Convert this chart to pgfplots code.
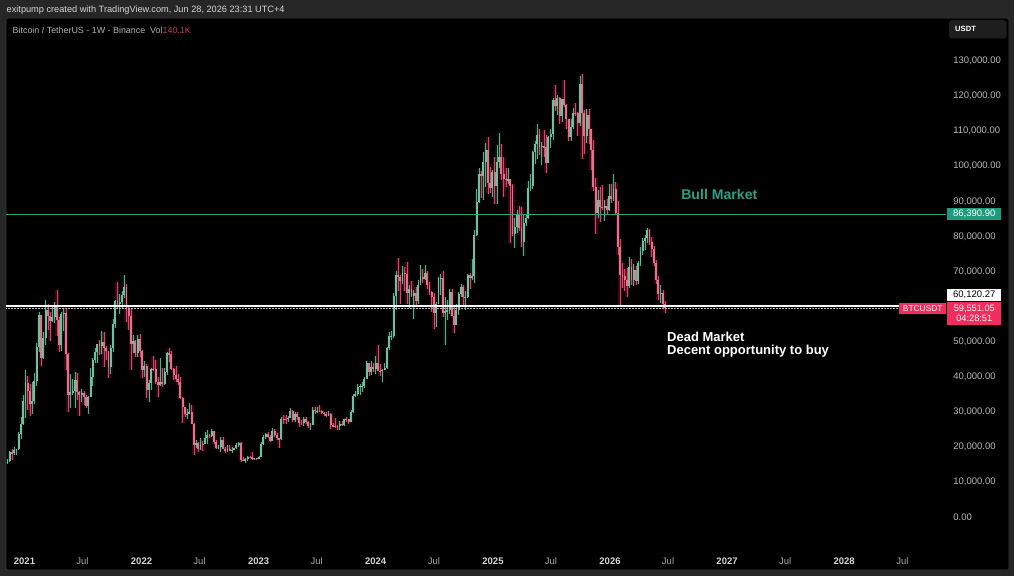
\documentclass[border=0pt]{standalone}
\usepackage{pgfplots}
\pgfplotsset{compat=1.18}
\usepackage{pgfplotstable}
\usepackage{fontspec}
\setmainfont{Liberation Sans}
\definecolor{bgout}{HTML}{262626}
\definecolor{panelborder}{HTML}{3A3A3A}
\definecolor{usdtbox}{HTML}{1E1E1E}
\definecolor{hdrtxt}{HTML}{D6D6D6}
\definecolor{titletxt}{HTML}{B0B0B0}
\definecolor{upb}{HTML}{72BE9E}
\definecolor{upw}{HTML}{5AAA8A}
\definecolor{upg}{HTML}{1A9A6A}
\definecolor{dnb}{HTML}{D9778C}
\definecolor{dnw}{HTML}{C84E68}
\definecolor{dng}{HTML}{E01848}
\definecolor{tealc}{HTML}{2E9E84}
\definecolor{tealbox}{HTML}{1E9B7D}
\definecolor{redlab}{HTML}{F02D5C}
\definecolor{redvol}{HTML}{C23A50}
\definecolor{axtxt}{HTML}{B8B8B8}
\definecolor{yeartxt}{HTML}{D6D6D6}
\definecolor{jultxt}{HTML}{A8A8A8}

\pgfplotstableread{
n o h l c
0 15330 16480 15070 15960
1 15960 18950 15780 18400
2 18400 19480 16200 18180
3 18180 19900 17570 19160
4 19160 19420 17650 19280
5 19280 24300 19000 23740
6 23740 28420 22350 26440
7 26440 34800 26300 33000
8 33000 41950 28130 38150
9 38150 40100 30420 35800
10 35800 37850 28850 32260
11 32260 38530 29240 33100
12 33100 40950 32300 38870
13 38870 49700 37370 48580
14 48580 58350 46930 57490
15 57490 57530 43000 45240
16 45240 52640 44950 50970
17 50970 61800 49160 59020
18 59020 60600 53270 57350
19 57350 58430 50300 55780
20 55780 60200 55470 57090
21 57090 61200 55410 59770
22 59770 64850 51540 56150
23 56150 57000 47050 49070
24 49070 58460 47460 57830
25 57830 59600 52900 58230
26 58230 59590 42000 46430
27 46430 46680 30000 34700
28 34700 40900 31100 35670
29 35670 39480 34810 35800
30 35800 41330 31000 39000
31 39000 41000 33400 35500
32 35500 36000 28800 34700
33 34700 36600 32700 35280
34 35280 35960 32070 34240
35 34240 34650 31020 31780
36 31780 34500 29280 34270
37 34270 42600 34170 39850
38 39850 45300 37330 44800
39 44800 48140 43800 46990
40 46990 49380 43950 49250
41 49250 50500 46300 48820
42 48820 52920 46500 49920
43 49920 52800 42800 48310
44 48310 48850 44700 47260
45 47260 47350 39600 42800
46 42800 49000 40750 48200
47 48200 56560 47100 54950
48 54950 62000 54000 61550
49 61550 67000 59500 60850
50 60850 63700 57800 61300
51 61300 64300 59400 63280
52 63280 69000 62300 65500
53 65500 66300 55600 59700
54 59700 59870 53250 57250
55 57250 59400 42000 49400
56 49400 51950 46750 50100
57 50100 50600 45500 46680
58 46680 52000 45500 50800
59 50800 52100 45700 47300
60 47300 47550 39650 41860
61 41860 44450 39900 43080
62 43080 43500 34000 36270
63 36270 38950 32900 38160
64 38160 42600 36300 42200
65 42200 45850 41700 42080
66 42080 44750 38000 38370
67 38370 39850 34300 37700
68 37700 45400 37450 38420
69 38420 42600 37150 37780
70 37780 42400 37600 41260
71 41260 46900 40500 46820
72 46820 48200 44200 46400
73 46400 47200 41900 42150
74 42150 42400 38980 40380
75 40380 42950 38500 39450
76 39450 40800 37600 38470
77 38470 40000 33700 34050
78 34050 34250 26700 31300
79 31300 31400 28600 29430
80 29430 30650 28000 29460
81 29460 32400 29300 29900
82 29900 31800 26560 26600
83 26600 26850 17600 20550
84 20550 21900 19600 20990
85 20990 21500 18630 19300
86 19300 22500 19000 20850
87 20850 21600 18900 20780
88 20780 24280 20760 22580
89 22580 24670 20700 23300
90 23300 23650 22400 23180
91 23180 25200 22680 24440
92 24440 24500 20760 21510
93 21510 21900 19520 19560
94 19560 20580 19500 19990
95 19990 22800 18500 21830
96 21830 22700 19300 19420
97 19420 19950 18130 18800
98 18800 20400 18460 19310
99 19310 20470 19080 19140
100 19140 19960 18190 19200
101 19200 19700 18970 19570
102 19570 21090 19250 20630
103 20630 21480 20060 21150
104 21150 21480 15600 16330
105 16330 17200 16000 16280
106 16280 16800 15480 16430
107 16430 17400 15990 17100
108 17100 17400 16700 17090
109 17090 18400 16300 16750
110 16750 16950 16400 16840
111 16840 16900 16300 16680
112 16680 17300 16500 17130
113 17130 21260 17100 20870
114 20870 23370 20400 22700
115 22700 23950 22300 23770
116 23770 24250 22500 22930
117 22930 23450 21350 21800
118 21800 25250 21600 24630
119 24630 25150 22700 23490
120 23490 23880 21970 22430
121 22430 22600 19550 22130
122 22130 28400 21900 28000
123 28000 29200 26600 27980
124 27980 29200 26500 27940
125 27940 28800 27200 28320
126 28320 31000 28170 30300
127 30300 30400 27130 27590
128 27590 30050 26950 29240
129 29240 29820 27700 28430
130 28430 28450 25800 26920
131 26920 27700 26100 26750
132 26750 28450 25870 28070
133 28070 28450 26600 27100
134 27100 27450 25350 25900
135 25900 26800 24800 26350
136 26350 31400 26250 30480
137 30480 31450 29500 30270
138 30270 31380 29700 30290
139 30290 31800 29950 30230
140 30230 30440 29500 29780
141 29780 29990 28860 29300
142 29300 30000 28600 29050
143 29050 30250 28700 29300
144 29300 29700 25160 26090
145 26090 26800 25800 26000
146 26000 28200 25330 25840
147 25840 26180 24900 25830
148 25830 27400 24900 26530
149 26530 27480 26000 26250
150 26250 28000 26000 27970
151 27970 28580 27200 27920
152 27920 27980 26530 27110
153 27110 30400 26960 29990
154 29990 35200 29660 34530
155 34530 35950 34080 35000
156 35000 37950 34520 37060
157 37060 37980 34800 37350
158 37350 38400 35630 37450
159 37450 39800 36900 39480
160 39480 44500 39400 43770
161 43770 43800 40200 41350
162 41350 44400 40500 42700
163 42700 43800 41300 42280
164 42280 45900 40750 43940
165 43940 49000 41500 41730
166 41730 43580 40300 41550
167 41550 42250 38550 42030
168 42030 43880 41800 42580
169 42580 48600 42270 48300
170 48300 52800 47700 51570
171 51570 52990 50500 51730
172 51730 64000 50900 63100
173 63100 70000 59000 68950
174 68950 73780 64500 68390
175 68390 68900 60770 67200
176 67200 71700 66400 69650
177 69650 71300 64500 69360
178 69360 72800 60600 63800
179 63800 66000 59600 64940
180 64940 67200 62800 63100
181 63100 64700 56550 63900
182 63900 65500 60200 61500
183 61500 67700 60700 66270
184 66270 71950 66100 68500
185 68500 70600 66700 67750
186 67750 71950 67600 69650
187 69650 70200 65000 66200
188 66200 66900 63400 64250
189 64250 64500 58400 62700
190 62700 63800 53500 58250
191 58250 61400 54300 60800
192 60800 68400 60600 68160
193 68160 69400 63400 68260
194 68260 70000 57100 58150
195 58150 62700 49000 58700
196 58700 61800 56100 58950
197 58950 65000 57800 64220
198 64220 64900 57200 57300
199 57300 59800 52500 54850
200 54850 60600 54600 59130
201 59130 64130 57500 63580
202 63580 66500 62700 65600
203 65600 66000 59800 62800
204 62800 64500 58900 62850
205 62850 69400 62300 69000
206 69000 69500 65100 68000
207 68000 73600 67450 68750
208 68750 81800 66800 80400
209 80400 93400 80200 89850
210 89850 99600 89400 97900
211 97900 98700 90800 97200
212 97200 104000 90500 101100
213 101100 106500 94200 104500
214 104500 108350 92200 95200
215 95200 99900 92500 93700
216 93700 99000 91300 98300
217 98300 102700 89300 94500
218 94500 106000 89250 101300
219 101300 109600 99500 102600
220 102600 106400 96200 97700
221 97700 102500 91200 96460
222 96460 99500 94100 96150
223 96150 99500 94800 96250
224 96250 96500 78200 94270
225 94270 95000 80000 80700
226 80700 85300 76600 82600
227 82600 87400 81100 86080
228 86080 88750 81600 82400
229 82400 88500 77100 78400
230 78400 86100 74500 83700
231 83700 86500 83100 85100
232 85100 95700 85000 93700
233 93700 97900 92800 94300
234 94300 104300 93400 104100
235 104100 107100 100700 106450
236 106450 111980 102000 109000
237 109000 110700 103100 105600
238 105600 106800 100400 105700
239 105700 110400 102700 105500
240 105500 108950 98200 100900
241 100900 108500 100800 108400
242 108400 110500 105100 109200
243 109200 119500 107500 119000
244 119000 123200 115700 117300
245 117300 120250 114700 119400
246 119400 119800 112000 114200
247 114200 119300 112700 119300
248 119300 124500 116800 117400
249 117400 117600 110700 113500
250 113500 113600 107300 108200
251 108200 113400 107300 111100
252 111100 116700 110600 115300
253 115300 117900 114400 115250
254 115250 115400 108600 112200
255 112200 125700 111500 123500
256 123500 126200 102000 115200
257 115200 116000 103500 108650
258 108650 116400 106700 114500
259 114500 116400 106300 110500
260 110500 110700 98900 104700
261 104700 107500 93000 94200
262 94200 96600 80600 86800
263 86800 93100 85300 90400
264 90400 94200 84000 88500
265 88500 94600 87600 88200
266 88200 90400 84400 88600
267 88600 90600 86500 87600
268 87600 94800 87100 91500
269 91500 94800 89500 90600
270 90600 97900 90200 93600
271 93600 95500 86000 86600
272 86600 90000 74600 77000
273 77000 79300 60100 68900
274 68900 72300 65300 68800
275 68800 70800 64400 67600
276 67600 71000 62800 65800
277 65800 74000 65200 71200
278 71200 73500 66000 67500
279 67500 72000 65800 70500
280 70500 71600 66000 67200
281 67200 73000 66400 72500
282 72500 77000 71500 75800
283 75800 79500 74800 78600
284 78600 80300 76000 79400
285 79400 82400 78000 81800
286 81800 82200 77500 78500
287 78500 79800 74000 76500
288 76500 77200 71500 72300
289 72300 73400 66500 67500
290 67500 68800 62000 63500
291 63500 66000 61000 64000
292 64000 64800 59200 60800
293 60800 61600 58200 59551
}\btc

\begin{document}
\begin{tikzpicture}
\fill[bgout] (0,0) rectangle (1014pt,576pt);
\fill[black, draw=panelborder, line width=0.6pt, rounded corners=2pt] (6pt,6pt) rectangle (1009pt,558pt);
% header texts
\node[anchor=base west, inner sep=0pt, text=hdrtxt] at (6.5pt,563.3pt) {\fontsize{9.2}{11}\selectfont exitpump created with TradingView.com, Jun 28, 2026 23:31 UTC+4};
\node[anchor=base west, inner sep=0pt, text=titletxt] at (12.5pt,542.9pt) {\fontsize{8.9}{10}\selectfont Bitcoin / TetherUS - 1W - Binance\hspace{5pt}Vol\textcolor{redvol}{140.1K}};
\fill[usdtbox, rounded corners=3pt] (949pt,537.5pt) rectangle (1006.5pt,556pt);
\node[anchor=west, inner sep=0pt, text=white] at (955pt,546.7pt) {\fontsize{7.6}{9}\selectfont\bfseries USDT};

\begin{axis}[
  at={(6pt,6pt)}, anchor=south west,
  width=1003pt, height=552pt, scale only axis,
  xmin=-0.668, xmax=446.2, ymin=-15110, ymax=142259,
  hide axis, clip=false,
]
% glow under candles
\addplot[forget plot, draw=none, mark=none, error bars/.cd, y dir=both, y explicit, error mark=none,
  error bar style={draw=dng, line width=4pt, opacity=0.28}]
  table[x=n, y expr={(\thisrow{c}<\thisrow{o}) ? (\thisrow{h}+\thisrow{l})/2 : nan}, y error expr={(\thisrow{h}-\thisrow{l})/2}] {\btc};
\addplot[forget plot, draw=none, mark=none, error bars/.cd, y dir=both, y explicit, error mark=none,
  error bar style={draw=upg, line width=3.5pt, opacity=0.15}]
  table[x=n, y expr={(\thisrow{c}>=\thisrow{o}) ? (\thisrow{h}+\thisrow{l})/2 : nan}, y error expr={(\thisrow{h}-\thisrow{l})/2}] {\btc};
% wicks
\addplot[forget plot, draw=none, mark=none, error bars/.cd, y dir=both, y explicit, error mark=none,
  error bar style={draw=upw, line width=0.6pt}]
  table[x=n, y expr={(\thisrow{c}>=\thisrow{o}) ? (\thisrow{h}+\thisrow{l})/2 : nan}, y error expr={(\thisrow{h}-\thisrow{l})/2}] {\btc};
\addplot[forget plot, draw=none, mark=none, error bars/.cd, y dir=both, y explicit, error mark=none,
  error bar style={draw=dnw, line width=0.6pt}]
  table[x=n, y expr={(\thisrow{c}<\thisrow{o}) ? (\thisrow{h}+\thisrow{l})/2 : nan}, y error expr={(\thisrow{h}-\thisrow{l})/2}] {\btc};
% bodies
\addplot[forget plot, draw=none, mark=none, error bars/.cd, y dir=both, y explicit, error mark=none,
  error bar style={draw=upb, line width=1.9pt}]
  table[x=n, y expr={(\thisrow{c}>=\thisrow{o}) ? (\thisrow{o}+\thisrow{c})/2 : nan}, y error expr={(\thisrow{c}-\thisrow{o})/2}] {\btc};
\addplot[forget plot, draw=none, mark=none, error bars/.cd, y dir=both, y explicit, error mark=none,
  error bar style={draw=dnb, line width=1.9pt}]
  table[x=n, y expr={(\thisrow{c}<\thisrow{o}) ? (\thisrow{o}+\thisrow{c})/2 : nan}, y error expr={(\thisrow{o}-\thisrow{c})/2}] {\btc};

% horizontal levels
\addplot[tealc, line width=0.9pt] coordinates {(-0.668,86390.9) (418.2,86390.9)};
\addplot[gray!55, line width=0.5pt, densely dotted] coordinates {(-0.668,59551.05) (418.2,59551.05)};
\addplot[white, line width=1.3pt] coordinates {(-0.668,60120.27) (418.2,60120.27)};

% annotations
\node[anchor=base west, inner sep=0pt, text=tealc] at (axis cs:300.1,90572) {\fontsize{14.1}{16}\selectfont\bfseries Bull Market};
\node[anchor=base west, inner sep=0pt, text=white] at (axis cs:293.8,50175) {\fontsize{13}{15}\selectfont\bfseries Dead Market};
\node[anchor=base west, inner sep=0pt, text=white] at (axis cs:293.8,46384) {\fontsize{13}{15}\selectfont\bfseries Decent opportunity to buy};

% price scale labels
\begin{scope}[every node/.style={anchor=west, inner sep=0pt, text=axtxt, font=\fontsize{9.5}{11}\selectfont}]
\node at (axis cs:421.3,130000) {130,000.00};
\node at (axis cs:421.3,120000) {120,000.00};
\node at (axis cs:421.3,110000) {110,000.00};
\node at (axis cs:421.3,100000) {100,000.00};
\node at (axis cs:421.3,90000) {90,000.00};
\node at (axis cs:421.3,80000) {80,000.00};
\node at (axis cs:421.3,70000) {70,000.00};
\node at (axis cs:421.3,50000) {50,000.00};
\node at (axis cs:421.3,40000) {40,000.00};
\node at (axis cs:421.3,30000) {30,000.00};
\node at (axis cs:421.3,20000) {20,000.00};
\node at (axis cs:421.3,10000) {10,000.00};
\node at (axis cs:421.3,0) {0.00};
\end{scope}
% boxes
\node[anchor=west, fill=tealbox, text=white, inner sep=0pt, minimum width=54pt, minimum height=12pt, font=\fontsize{9.5}{11}\selectfont] at (axis cs:418.6,86390.9) {86,390.90};
\node[anchor=west, fill=white, text=black, inner sep=0pt, minimum width=54pt, minimum height=12pt, font=\fontsize{9.5}{11}\selectfont] at (axis cs:418.6,63290) {60,120.27};
\node[anchor=west, fill=redlab, text=white, inner sep=0pt, minimum width=54pt, minimum height=23pt, align=center, font=\fontsize{9.2}{10}\selectfont] at (axis cs:418.6,58015) {59,551.05\\04:28:51};
\node[anchor=east, fill=redlab, text=white, inner sep=0pt, minimum width=46.5pt, minimum height=11pt, font=\fontsize{8.4}{10}\selectfont] at (axis cs:418.2,59442) {BTCUSDT};

% time scale labels
\begin{scope}[every node/.style={anchor=center, inner sep=0pt}]
\node[text=yeartxt, font=\fontsize{9.5}{11}\selectfont\bfseries] at (axis cs:7.571,-12544) {2021};
\node[text=jultxt, font=\fontsize{9.5}{11}\selectfont] at (axis cs:33.43,-12544) {Jul};
\node[text=yeartxt, font=\fontsize{9.5}{11}\selectfont\bfseries] at (axis cs:59.71,-12544) {2022};
\node[text=jultxt, font=\fontsize{9.5}{11}\selectfont] at (axis cs:85.57,-12544) {Jul};
\node[text=yeartxt, font=\fontsize{9.5}{11}\selectfont\bfseries] at (axis cs:111.86,-12544) {2023};
\node[text=jultxt, font=\fontsize{9.5}{11}\selectfont] at (axis cs:137.71,-12544) {Jul};
\node[text=yeartxt, font=\fontsize{9.5}{11}\selectfont\bfseries] at (axis cs:164.0,-12544) {2024};
\node[text=jultxt, font=\fontsize{9.5}{11}\selectfont] at (axis cs:190.0,-12544) {Jul};
\node[text=yeartxt, font=\fontsize{9.5}{11}\selectfont\bfseries] at (axis cs:216.29,-12544) {2025};
\node[text=jultxt, font=\fontsize{9.5}{11}\selectfont] at (axis cs:242.14,-12544) {Jul};
\node[text=yeartxt, font=\fontsize{9.5}{11}\selectfont\bfseries] at (axis cs:268.43,-12544) {2026};
\node[text=jultxt, font=\fontsize{9.5}{11}\selectfont] at (axis cs:294.29,-12544) {Jul};
\node[text=yeartxt, font=\fontsize{9.5}{11}\selectfont\bfseries] at (axis cs:320.57,-12544) {2027};
\node[text=jultxt, font=\fontsize{9.5}{11}\selectfont] at (axis cs:346.43,-12544) {Jul};
\node[text=yeartxt, font=\fontsize{9.5}{11}\selectfont\bfseries] at (axis cs:372.71,-12544) {2028};
\node[text=jultxt, font=\fontsize{9.5}{11}\selectfont] at (axis cs:398.71,-12544) {Jul};
\end{scope}
\end{axis}
\pgfresetboundingbox
\path[use as bounding box] (0,0) rectangle (1014pt,576pt);
\end{tikzpicture}
\end{document}
